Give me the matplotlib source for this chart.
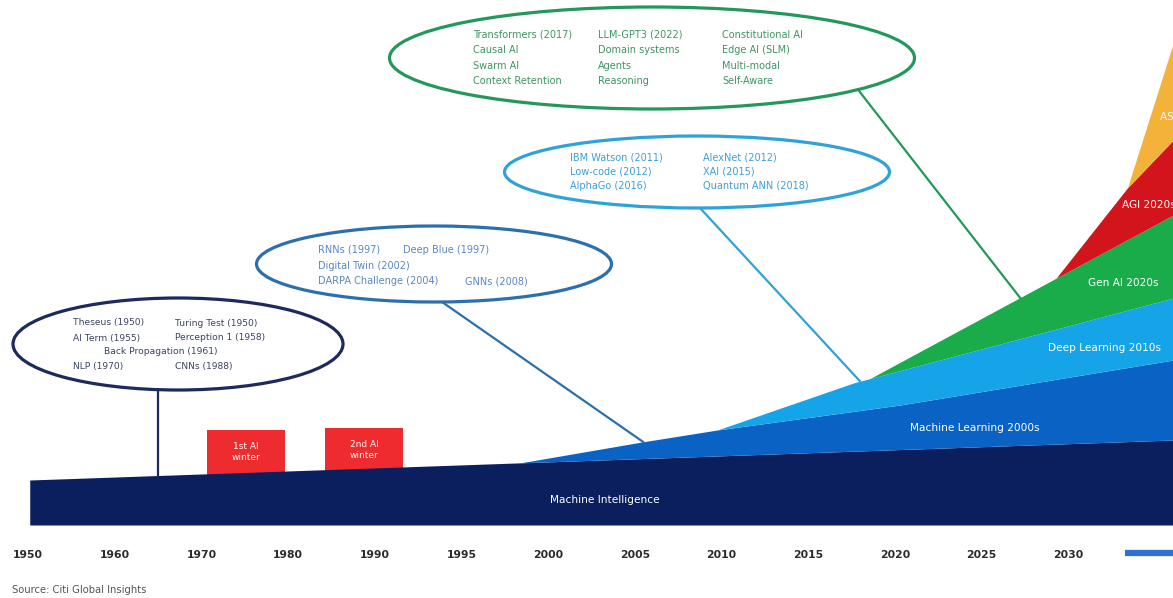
import numpy as np
import matplotlib
matplotlib.use('Agg')
import matplotlib.pyplot as plt
from matplotlib.patches import Ellipse, Rectangle

# x axis labels (evenly spaced, not linear in years)
years = ['1950', '1960', '1970', '1980', '1990', '1995', '2000',
         '2005', '2010', '2015', '2020', '2025', '2030']

# band top edges, x in tick units, y = height above the base line
mi_x = [0.02, 13.21]
mi_top = [4.5, 8.5]
ml_x = [5.67, 7.08, 7.95, 10.06, 13.21]
ml_top = [6.2, 8.3, 9.5, 12.0, 16.5]
dl_x = [7.95, 9.52, 13.21]
dl_top = [9.5, 14.2, 22.7]
gen_x = [9.71, 13.21]
gen_top = [14.64, 31.0]
agi_x = [11.85, 12.68, 13.21]
agi_top = [24.6, 33.7, 38.5]
asi_x = [12.68, 13.21]
asi_top = [33.7, 48.2]

band_names = ['Machine Intelligence', 'Machine Learning 2000s', 'Deep Learning 2010s',
              'Gen AI 2020s', 'AGI 2020s', 'ASI 2030s']
band_colors = ['#0b1f5e', '#0a63c4', '#16a4e8', '#1aab4b', '#d3141c', '#f4b23a']

winters = ['1st AI\nwinter', '2nd AI\nwinter']

e1_items = [('Theseus (1950)', 73, 323), ('Turing Test (1950)', 175, 323),
            ('AI Term (1955)', 73, 338), ('Perception 1 (1958)', 175, 338),
            ('Back Propagation (1961)', 104, 352),
            ('NLP (1970)', 73, 367), ('CNNs (1988)', 175, 367)]
e2_items = [('RNNs (1997)', 318, 250), ('Deep Blue (1997)', 403, 250),
            ('Digital Twin (2002)', 318, 266),
            ('DARPA Challenge (2004)', 318, 281), ('GNNs (2008)', 465, 281)]
e3_items = [('IBM Watson (2011)', 570, 158), ('AlexNet (2012)', 703, 158),
            ('Low-code (2012)', 570, 172), ('XAI (2015)', 703, 172),
            ('AlphaGo (2016)', 570, 186), ('Quantum ANN (2018)', 703, 186)]
e4_cols = [['Transformers (2017)', 'Causal AI', 'Swarm AI', 'Context Retention'],
           ['LLM-GPT3 (2022)', 'Domain systems', 'Agents', 'Reasoning'],
           ['Constitutional AI', 'Edge AI (SLM)', 'Multi-modal', 'Self-Aware']]


def px(x, y):
    # picture pixels -> data units
    return (x - 28) / 86.7, (525 - y) / 10.0


fig = plt.figure(figsize=(11.73, 5.98), dpi=100)
ax = fig.add_axes([0, 73 / 598, 1, 525 / 598])
ax.set_xlim(-28 / 86.7, 1145 / 86.7)
ax.set_ylim(0, 52.5)
for s in ax.spines.values():
    s.set_visible(False)
ax.set_yticks([])

xs = np.linspace(0.02, 13.21, 1200)
below = np.zeros_like(xs)
for bx, btop, col in zip([mi_x, ml_x, dl_x, gen_x, agi_x, asi_x],
                         [mi_top, ml_top, dl_top, gen_top, agi_top, asi_top],
                         band_colors):
    top = np.interp(xs, bx, btop, left=np.nan, right=np.nan)
    top = np.where(np.isnan(top), below, np.maximum(top, below))
    ax.fill_between(xs, below, top, color=col, lw=0, zorder=3)
    below = top
stack_top = below

# AI winter boxes
for lab, (x0, x1, ytop) in zip(winters, [(207, 285, 430), (325, 403, 428)]):
    a, b = px(x0, ytop)
    c, _ = px(x1, ytop)
    ax.add_patch(Rectangle((a, 0), c - a, b, color='#ee2b2e', lw=0, zorder=2))
    ax.text((a + c) / 2, b - 2.2, lab, ha='center', va='center', color='white',
            fontsize=6.5, linespacing=1.25, zorder=4)

# ellipses with connectors
ell = [((178, 344, 330, 92), '#1c2a5e', '#3b4360', e1_items, 158, 158),
       ((434, 264, 355, 76), '#2c6fae', '#5b87c2', e2_items, 442, 643),
       ((697, 172, 385, 72), '#2fa2d8', '#3d9fd6', e3_items, 700, 860),
       ((652, 58, 525, 102), '#23985a', '#3f9462', None, 858, 1020)]
for (cx, cy, w, h), ec, tc, items, sx, ex in ell:
    dcx, dcy = px(cx, cy)
    ax.add_patch(Ellipse((dcx, dcy), w / 86.7, h / 10.0, fc='white', ec=ec,
                         lw=2.3, zorder=5))
    x_s, _ = px(sx, 0)
    y_s = dcy - (h / 20.0) * np.sqrt(1 - ((sx - cx) / (w / 2)) ** 2)
    x_e, _ = px(ex, 0)
    y_e = np.interp(x_e, xs, stack_top)
    ax.plot([x_s, x_e], [y_s, y_e], color=ec, lw=1.6, zorder=4)
    if items is None:
        items = []
        for cxp, col in zip([473, 598, 722], e4_cols):
            for yy, t in zip([35, 50, 66, 81], col):
                items.append((t, cxp, yy))
    fs = 6.6 if ec == '#1c2a5e' else 7.0
    for t, x, y in items:
        a, b = px(x, y)
        ax.text(a, b, t, ha='left', va='center', color=tc, fontsize=fs, zorder=6)

# band labels
lab_pos = [(605, 500, 'center'), (975, 428, 'center'), (1104, 348, 'center'),
           (1088, 283, 'left'), (1122, 205, 'left'), (1160, 117, 'left')]
for name, (x, y, ha) in zip(band_names, lab_pos):
    a, b = px(x, y)
    ax.text(a, b, name, ha=ha, va='center', color='white', fontsize=7.6, zorder=7)

ax.set_xticks(range(len(years)))
ax.set_xticklabels(years, fontsize=7.8, fontweight='bold', color='#2b2b2b')
ax.tick_params(axis='x', length=0, pad=18)

# blue arrow to the right edge
ax.plot([px(1125, 0)[0], px(1180, 0)[0]], [-2.8, -2.8], color='#2e6fda', lw=4.5,
        solid_capstyle='butt', clip_on=False)

fig.text(12 / 1173, 1 - 590 / 598, 'Source: Citi Global Insights', fontsize=7.2,
         color='#555555', va='center')

fig.savefig('out.png', dpi=100)
